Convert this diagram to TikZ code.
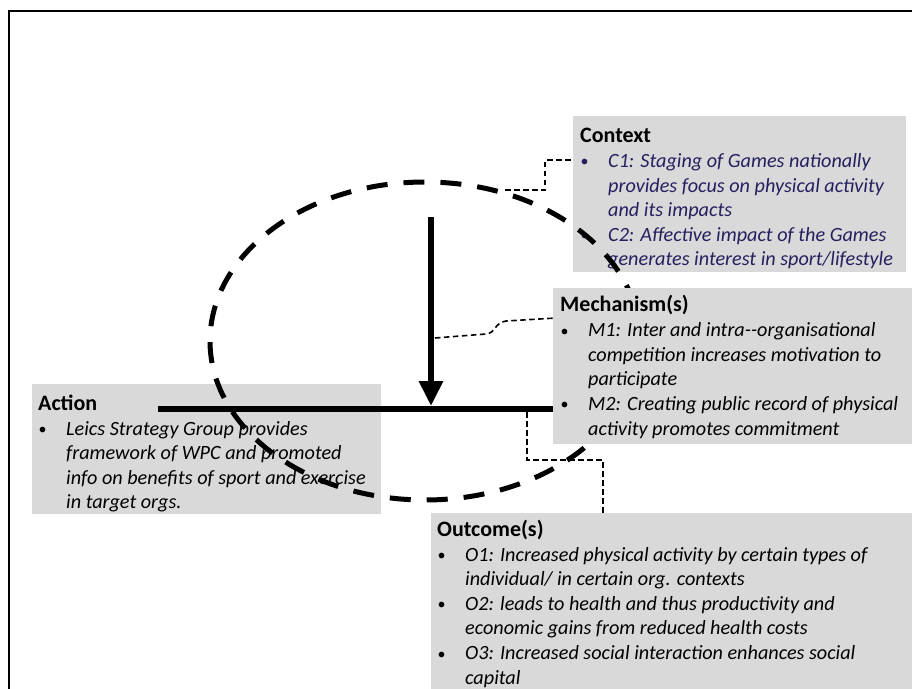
\documentclass[tikz,border=0pt]{standalone}
\usepackage{fontspec}
\setmainfont{Carlito}
\usepackage{array}
\usetikzlibrary{shapes.geometric,arrows.meta}
\definecolor{boxgray}{RGB}{217,217,217}
\definecolor{ctxblue}{RGB}{36,32,96}
\newcommand{\bul}{\makebox[28pt][l]{\hspace{0.5pt}\raisebox{0.5pt}{\fontsize{16}{16}\selectfont\textbullet}}}
\newcommand{\hd}[1]{\multicolumn{2}{@{}l@{}}{\fontsize{22}{24.6}\selectfont\bfseries #1}}
\begin{document}
\begin{tikzpicture}[x=1pt,y=-1pt,
  boxbg/.style={fill=boxgray,draw=none,anchor=north west,inner sep=0pt,outer sep=0pt},
  txt/.style={anchor=base west,inner sep=0pt,font=\fontsize{20.2}{24.6}\selectfont},
  conn/.style={line width=1.6pt,dash pattern=on 5.5pt off 3.5pt},
  thickline/.style={line width=6pt},
  elldash/.style={draw,ellipse,line width=5pt,dash pattern=on 21pt off 16pt,inner sep=0pt}]
\useasboundingbox (0,0) rectangle (912,688);
% outer frame
\draw[line width=2pt] (9,720) -- (9,11) -- (940,11);
% action box
\node[boxbg,minimum width=349pt,minimum height=130pt] (act) at (32,384) {};
\node[txt] (actT) at (38,410) {\begin{tabular}[t]{@{}l@{}>{\itshape}l@{}}
\hd{Action}\\[0.5pt]
\bul & Leics Strategy Group provides\\
 & framework of WPC and promoted\\
 & info on benefits of sport and exercise\\
 & in target orgs.
\end{tabular}};
% context box
\node[boxbg,minimum width=333pt,minimum height=156pt] (ctx) at (573,116) {};
\node[txt] (ctxT) at (580,142) {\begin{tabular}[t]{@{}>{\color{ctxblue}}l@{}>{\itshape\color{ctxblue}}l@{}}
\hd{Context}\\[0.8pt]
\bul & C1: Staging of Games nationally\\
 & provides focus on physical activity\\
 & and its impacts\\
\bul & C2: Affective impact of the Games\\
 & generates interest in sport/lifestyle
\end{tabular}};
% ellipse
\node[elldash,minimum width=430pt,minimum height=318pt] (ell) at (425,341) {};
% action line and arrow
\coordinate (hL) at (158,409);
\coordinate (hR) at (560,409);
\draw[thickline] (hL) -- (hR);
\coordinate (arrS) at (431,217);
\coordinate (arrE) at (431,406);
\draw[thickline,-{Triangle[width=23pt,length=25pt]}] (arrS) -- (arrE);
% context connector
\coordinate (cA) at (505,190);
\coordinate (cB) at (545,190);
\coordinate (cC) at (545,160);
\draw[conn] (cA) -- (cB) -- (cC) -- (ctx.west|-cC);
% mechanism connector
\coordinate (mA) at (435,338);
\coordinate (mB) at (486,334);
\coordinate (mC) at (506,321);
\coordinate (mD) at (556,318);
\draw[conn] (mA) -- (mB) .. controls (496,333) and (494,323) .. (mC) -- (mD);
% mechanism box
\node[boxbg,minimum width=362pt,minimum height=156pt] (mech) at (553,288) {};
\node[txt] (mechT) at (560,311) {\begin{tabular}[t]{@{}l@{}>{\itshape}l@{}}
\hd{Mechanism(s)}\\[1pt]
\bul & M1: Inter and intra-{}-organisational\\
 & competition increases motivation to\\
 & participate\\
\bul & M2: Creating public record of physical\\
 & activity promotes commitment
\end{tabular}};
% outcome connector
\coordinate (oA) at (527,412);
\coordinate (oB) at (527,460);
\coordinate (oC) at (603,460);
\draw[conn] (oA) -- (oB) -- (oC) -- (603,514);
% outcome box
\node[boxbg,minimum width=485pt,minimum height=190pt] (out) at (431,513) {};
\node[txt] (outT) at (437,536.5) {\begin{tabular}[t]{@{}l@{}>{\itshape}l@{}}
\hd{Outcome(s)}\\
\bul & O1: Increased physical activity by certain types of\\
 & individual/ in certain org. contexts\\
\bul & O2: leads to health and thus productivity and\\
 & economic gains from reduced health costs\\
\bul & O3: Increased social interaction enhances social\\
 & capital
\end{tabular}};
\end{tikzpicture}
\end{document}
